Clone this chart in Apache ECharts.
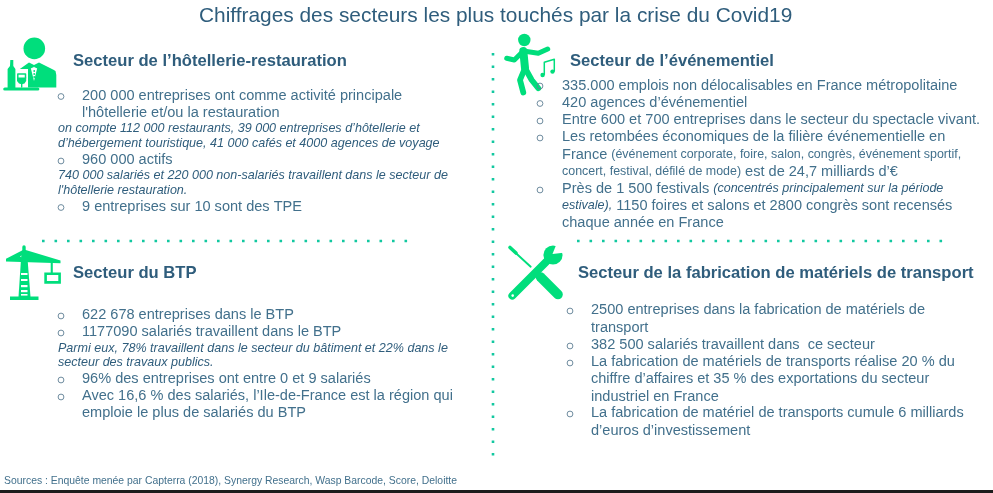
<!DOCTYPE html>
<html>
<head>
<meta charset="utf-8">
<style>
  html, body { margin: 0; padding: 0; background: #fff; }
  #chart { width: 993px; height: 493px; }
</style>
<script src="https://cdn.jsdelivr.net/npm/echarts@6/dist/echarts.min.js"></script>
</head>
<body>
<div id="chart"></div>
<script>
const titleText = 'Chiffrages des secteurs les plus touchés par la crise du Covid19';
const sourceText = 'Sources : Enquête menée par Capterra (2018), Synergy Research, Wasp Barcode, Score, Deloitte';

const headings = [
    'Secteur de l’hôtellerie-restauration',
    'Secteur de l’événementiel',
    'Secteur du BTP',
    'Secteur de la fabrication de matériels de transport'
];

const hotelLines = [
    '200 000 entreprises ont comme activité principale',
    "l'hôtellerie et/ou la restauration",
    '{i|on compte 112 000 restaurants, 39 000 entreprises d’hôtellerie et}',
    '{i|d’hébergement touristique, 41 000 cafés et 4000 agences de voyage}',
    '960 000 actifs',
    '{i|740 000 salariés et 220 000 non-salariés travaillent dans le secteur de}',
    "{i|l'hôtellerie restauration.}",
    '9 entreprises sur 10 sont des TPE'
];
const eventLines = [
    '335.000 emplois non délocalisables en France métropolitaine',
    '420 agences d’événementiel',
    'Entre 600 et 700 entreprises dans le secteur du spectacle vivant.',
    'Les retombées économiques de la filière événementielle en',
    'France {s|(événement corporate, foire, salon, congrès, événement sportif,}',
    '{s|concert, festival, défilé de mode)} est de 24,7 milliards d’€',
    'Près de 1 500 festivals {i|(concentrés principalement sur la période}',
    '{i|estivale),} 1150 foires et salons et 2800 congrès sont recensés',
    'chaque année en France'
];
const btpLines = [
    '622 678 entreprises dans le BTP',
    '1177090 salariés travaillent dans le BTP',
    '{i|Parmi eux, 78% travaillent dans le secteur du bâtiment et 22% dans le}',
    '{i|secteur des travaux publics.}',
    '96% des entreprises ont entre 0 et 9 salariés',
    'Avec 16,6 % des salariés, l’Ile-de-France est la région qui',
    'emploie le plus de salariés du BTP'
];
const transportLines = [
    '2500 entreprises dans la fabrication de matériels de',
    'transport',
    '382 500 salariés travaillent dans  ce secteur',
    'La fabrication de matériels de transports réalise 20 % du',
    'chiffre d’affaires et 35 % des exportations du secteur',
    'industriel en France',
    'La fabrication de matériel de transports cumule 6 milliards',
    'd’euros d’investissement'
];

const FONT = '"Liberation Sans", Arial, sans-serif';
const INK = '#2f5d7c';
const BODY = '#42708c';
const GREEN = '#00de7c';
const TEAL = '#12c8a0';

const richStyles = {
    i: { fontFamily: FONT, fontSize: 12.55, fontStyle: 'italic', fill: INK, color: INK },
    s: { fontFamily: FONT, fontSize: 12.45, fill: BODY, color: BODY }
};

const elements = [];

function addText(text, x, y, size, color, weight, align) {
    elements.push({
        type: 'text', x: x, y: y, silent: true,
        style: {
            text: text, fontFamily: FONT, fontSize: size, fontWeight: weight || 'normal',
            fill: color, align: align || 'left', verticalAlign: 'middle', rich: richStyles
        }
    });
}

function addRing(x, y) {
    elements.push({
        type: 'circle', silent: true, z: 5,
        shape: { cx: x, cy: y, r: 2.9 },
        style: { fill: 'none', stroke: '#5f7f94', lineWidth: 0.9 }
    });
}

function addBlock(lines, xs, ys) {
    lines.forEach((line, i) => {
        addText(line, xs[i], ys[i] + 0.5, 14.55, BODY);
    });
}

function addDots(x1, y1, x2, y2) {
    elements.push({
        type: 'line', silent: true,
        shape: { x1: x1, y1: y1, x2: x2, y2: y2 },
        style: { stroke: TEAL, lineWidth: 2.6, lineDash: [2.6, 9.9] }
    });
}

function addPoly(points, fill) {
    elements.push({ type: 'polygon', silent: true, shape: { points: points }, style: { fill: fill || GREEN, stroke: 'none' } });
}

function addStroke(points, width, color) {
    elements.push({
        type: 'polyline', silent: true, shape: { points: points },
        style: { fill: 'none', stroke: color || GREEN, lineWidth: width, lineCap: 'round', lineJoin: 'round' }
    });
}

function addDisc(x, y, r, fill) {
    elements.push({ type: 'circle', silent: true, shape: { cx: x, cy: y, r: r }, style: { fill: fill || GREEN } });
}

// serveur
function drawWaiter() {
    addDisc(34.3, 48.4, 10.8);
    addPoly([[17, 87.5], [17, 71], [29, 62.5], [34, 65], [39, 62.5], [53, 69.5], [55.5, 71], [56.3, 75], [56.3, 87.5]]);
    addPoly([[30, 65], [34, 81], [38, 65], [34, 67]], '#fff');
    addPoly([[29.5, 64], [34, 66.5], [38.5, 64], [38.5, 69], [34, 67], [29.5, 69]]);
    addDisc(34.2, 71, 0.9);
    addDisc(34.2, 74, 0.9);
    addDisc(34.2, 77, 0.9);
    addPoly([[15.6, 69], [28, 69], [28, 88], [15.6, 88]], '#fff');
    addPoly([[10.3, 60], [13.3, 60], [13.3, 66], [15.4, 69], [15.4, 88], [7.6, 88], [7.6, 69], [10, 66]]);
    addStroke([[17.8, 78], [17.8, 74], [25.5, 74], [25.5, 78]], 1.5);
    addPoly([[17, 77.5], [26.2, 77.5], [26.2, 81], [24.5, 83.5], [21.7, 84.2], [19, 83.5], [17, 81]]);
    addStroke([[21.7, 83.5], [21.7, 87]], 1.4);
    addStroke([[4.8, 89], [37.8, 89]], 3.2);
}

// danseur et notes
function drawDancer() {
    addDisc(524.3, 40, 6.2);
    addStroke([[506.7, 58.3], [514.3, 60], [523.3, 51], [538.3, 53.3], [547.7, 49]], 5);
    addStroke([[523.3, 51], [525, 68]], 8);
    addStroke([[525, 68], [520, 80], [523.3, 92.5]], 5.8);
    addStroke([[525, 68], [531.7, 80], [538.3, 88.3]], 5.8);
    addStroke([[544.3, 74.5], [544.3, 62.3], [554.3, 59.3], [554.3, 71]], 1.5);
    addDisc(542.6, 75, 2.2);
    addDisc(552.5, 71.6, 2.2);
}

// grue
function drawCrane() {
    addStroke([[24, 247], [24, 251]], 3.4);
    addPoly([[6, 258.8], [24, 249.5], [60.5, 260.5], [60.5, 263.2], [6, 261.5]]);
    addPoly([[20, 256.5], [22, 255], [22, 257.5]], '#fff');
    addPoly([[21.5, 252], [27, 252], [30.5, 297], [18.5, 297]]);
    [[273, 2], [279, 2], [285, 2.2], [290, 2.2], [294, 1.6]].forEach(r => {
        addPoly([[21, r[0]], [27.5, r[0]], [27.5, r[0] + r[1]], [21, r[0] + r[1]]], '#fff');
    });
    addPoly([[10, 296.5], [38.5, 296.5], [38.5, 300], [10, 300]]);
    addPoly([[50.7, 262], [52.8, 262], [52.8, 273], [50.7, 273]]);
    elements.push({
        type: 'rect', silent: true, shape: { x: 45.6, y: 273.8, width: 14, height: 8.6 },
        style: { fill: '#fff', stroke: GREEN, lineWidth: 2.6 }
    });
}

// outils
function drawTools() {
    addStroke([[510, 247.5], [516, 253]], 3.6);
    addStroke([[513, 250.5], [530.7, 266.7]], 1.9);
    addStroke([[540.5, 277], [558, 294.5]], 9.6);
    addStroke([[512.3, 295.7], [546, 262]], 7.8);
    addDisc(553, 255, 9.6);
    addPoly([[552.5, 254], [556.5, 244], [566, 246], [565.5, 252.5]], '#fff');
    addDisc(512.7, 295.6, 1.3, '#fff');
}

addText(titleText, 199, 16, 20.86, INK);
addText(sourceText, 4, 481.5, 10.4, BODY);

addText(headings[0], 73, 61, 16.6, INK, 'bold');
addText(headings[1], 570, 61, 16.6, INK, 'bold');
addText(headings[2], 73, 273.5, 16.6, INK, 'bold');
addText(headings[3], 578, 273.5, 16.6, INK, 'bold');

addBlock(hotelLines, [82, 82, 58, 58, 82, 58, 58, 82], [95, 112, 128, 143, 159, 175, 190, 206]);
addBlock(eventLines, [562, 562, 562, 562, 562, 562, 562, 562, 562], [85, 102, 119.5, 136, 154, 171, 188, 205, 222]);
addBlock(btpLines, [82, 82, 58, 58, 82, 82, 82], [314, 331, 348, 362, 378, 395, 412]);
addBlock(transportLines, [591, 591, 591, 591, 591, 591, 591, 591], [309, 327, 344, 361, 378, 396, 412.5, 430]);

drawWaiter();
drawDancer();
drawCrane();
drawTools();

[[61, 96.5], [61, 161], [61, 207.5],
 [540, 86], [540, 103.5], [540, 121], [540, 138], [540, 190],
 [61, 316], [61, 333], [61, 380], [61, 397],
 [570, 311], [570, 346], [570, 363], [570, 414]].forEach(p => addRing(p[0], p[1]));

addDots(42, 241, 410, 241);
addDots(577, 241, 943, 241);
addDots(493, 53, 493, 456);

// barre noire en bas de la capture
elements.push({ type: 'rect', silent: true, shape: { x: 0, y: 490, width: 993, height: 3 }, style: { fill: '#1c1c1c' } });

const chart = echarts.init(document.getElementById('chart'), null, { renderer: 'canvas' });
chart.setOption({
    backgroundColor: '#ffffff',
    animation: false,
    graphic: { elements: elements }
});
</script>
</body>
</html>
